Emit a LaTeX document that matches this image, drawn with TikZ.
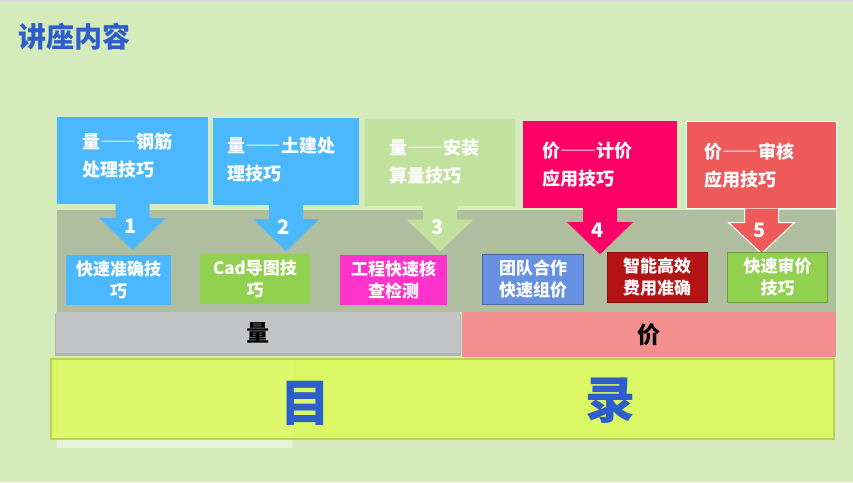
\documentclass[tikz,border=0pt]{standalone}
\usepackage{fontspec}
\setmainfont{Noto Sans CJK SC}
\usetikzlibrary{positioning}
\definecolor{bgGreen}{HTML}{D5EBBB}
\definecolor{titleBlue}{HTML}{2D5ECC}
\definecolor{qBlue}{HTML}{4BB8FE}
\definecolor{qGreen}{HTML}{C1E29C}
\definecolor{pRed}{HTML}{FF0066}
\definecolor{pCoral}{HTML}{EE5A5A}
\definecolor{bandGray}{HTML}{AFBE9F}
\definecolor{sGreen}{HTML}{92D050}
\definecolor{sPink}{HTML}{FF33CC}
\definecolor{sBlue}{HTML}{6790E0}
\definecolor{sRed}{HTML}{B51414}
\definecolor{barGray}{HTML}{C4C5C6}
\definecolor{barPink}{HTML}{F48F8F}
\definecolor{muluYellow}{HTML}{DCF764}

\newcommand\longdash{{\addfontfeature{RawFeature=+fwid}——}}

\tikzset{
	topbox/.style={minimum width=#1, minimum height=87pt, inner sep=0pt},
	toptext/.style={right, align=left, text=white, font=\bfseries\fontsize{18}{28}\selectfont},
	subbox/.style={minimum width=#1, minimum height=50pt, inner sep=0pt, align=center,
		text=white, font=\bfseries\fontsize{17}{22}\selectfont},
	numtext/.style={text=white, font=\bfseries\fontsize{20}{20}\selectfont},
	bartext/.style={inner sep=0pt, font=\bfseries\fontsize{23}{23}\selectfont}
}

\begin{document}
\begin{tikzpicture}[x=1pt,y=-1pt]
			\fill[bgGreen] (0,0) rectangle (853,482);
			\fill[gray!30] (0,0) rectangle (853,1.5);
			\useasboundingbox (0,0) rectangle (853,482);

			\node[right, text=titleBlue, font=\bfseries\fontsize{28}{28}\selectfont] (title) at (15,37) {讲座内容};

			% band behind the arrows
			\fill[bandGray] (57,210) rectangle (836,312);

			% top boxes
			\node[topbox=151pt, fill=qBlue] (q1) at (132.5,160.5) {};
			\node[topbox=146pt, fill=qBlue] (q2) at (286,161.5) {};
			\node[topbox=150pt, fill=qGreen] (q3) at (440,162) {};
			\node[topbox=154pt, fill=pRed] (p4) at (600,164.5) {};
			\node[topbox=150pt, fill=pCoral, draw=white, line width=1pt] (p5) at (761.5,164.5) {};

			\node[toptext] (t1) at (79,156) {量\longdash 钢筋\\处理技巧};
			\node[toptext] (t2) at (224,160) {量\longdash 土建处\\理技巧};
			\node[toptext] (t3) at (386,162) {量\longdash 安装\\算量技巧};
			\node[toptext] (t4) at (539,165) {价\longdash 计价\\应用技巧};
			\node[toptext] (t5) at (701,166) {价\longdash 审核\\应用技巧};

			% down arrows
			\foreach \b/\c in {q1/qBlue,q2/qBlue,q3/qGreen,p4/pRed}
			\fill[\c] ([xshift=-17pt]\b.south) -- ++(0,14) -- ++(-16,0) -- ++(33,32) -- ++(33,-32) -- ++(-16,0) -- ++(0,-14) -- cycle;
			\filldraw[fill=pCoral, draw=white, line width=1pt] ([xshift=-17pt]p5.south) -- ++(0,14) -- ++(-16,0) -- ++(33,31) -- ++(33,-31) -- ++(-16,0) -- ++(0,-14);

			\foreach \b/\n in {q1/1,q2/2,q3/3,p4/4,p5/5}
			\node[numtext] (n\n) at ([xshift=-2pt,yshift=-22pt]\b.south) {\n};

			% lower boxes
			\node[subbox=105pt, fill=qBlue] (s1) at (118.5,280) {快速准确技\\巧};
			\node[subbox=110pt, fill=sGreen] (s2) at (255,278.5) {Cad导图技\\巧};
			\node[subbox=107pt, fill=sPink] (s3) at (393.5,280) {工程快速核\\查检测};
			\node[subbox=101pt, fill=sBlue, draw=sBlue!70!black] (s4) at (533,279.5) {团队合作\\快速组价};
			\node[subbox=100pt, fill=sRed, draw=sRed!75!black] (s5) at (657,277) {智能高效\\费用准确};
			\node[subbox=100pt, fill=sGreen, draw=sGreen!75!black] (s6) at (777.5,277) {快速审价\\技巧};

			% quantity / price bars
			\fill[black!30] (55,314) rectangle (461,356);
			\node[fill=barGray, minimum width=404pt, minimum height=41pt, bartext] (liang) at (258,332.5) {量};
			\node[fill=barPink, minimum width=374pt, minimum height=45pt, bartext] (jia) at (649,334.5) {价};

			% contents bar
			\fill[white, opacity=0.4] (57,360) rectangle (293,448);
			\node[fill=muluYellow, draw=muluYellow!85!black, line width=1.2pt,
				minimum width=783pt, minimum height=80pt, inner sep=0pt] (mulu) at (442.5,399) {};
			\fill[white, opacity=0.06] (57,360) rectangle (293,438);
			\node[text=titleBlue, font=\bfseries\fontsize{50}{50}\selectfont] (mu) at (305,403) {目};
			\node[text=titleBlue, font=\bfseries\fontsize{50}{50}\selectfont] (lu) at (610,401) {录};
		\end{tikzpicture}
\end{document}
